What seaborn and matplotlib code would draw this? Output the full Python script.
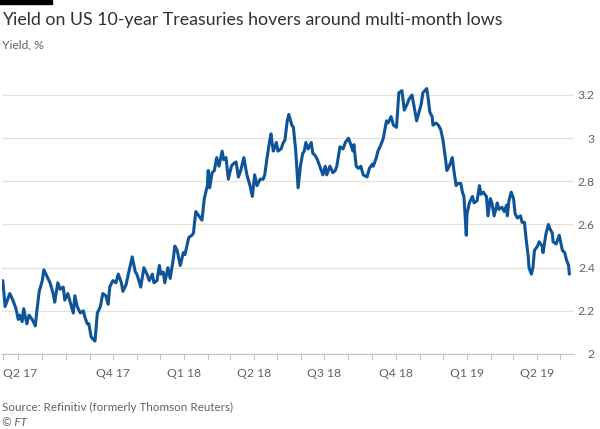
import numpy as np
import pandas as pd
import matplotlib
matplotlib.use("Agg")
import matplotlib.pyplot as plt
import matplotlib.dates as mdates
import seaborn as sns


# ======== data ========
# day offsets counted from the first observation (12 May 2017)
start_date = "2017-05-12"
day_offsets = [
    0, 3, 9, 13, 17, 20, 22, 25, 27, 31, 34, 38, 42, 44, 47, 51, 53, 57, 61, 65,
    67, 71, 74, 78, 80, 84, 87, 91, 93, 96, 100, 104, 106, 109, 111, 114, 116, 119, 122, 126,
    129, 133, 136, 138, 142, 146, 149, 153, 155, 159, 162, 167, 171, 173, 178, 182, 186, 189, 193, 195,
    199, 202, 204, 207, 209, 213, 216, 220, 222, 225, 229, 233, 235, 240, 244, 246, 249, 253, 257, 260,
    264, 265, 267, 270, 273, 276, 279, 283, 285, 288, 291, 295, 297, 301, 304, 307, 311, 315, 319, 322,
    325, 328, 332, 336, 338, 341, 344, 346, 349, 353, 355, 359, 362, 364, 367, 369, 373, 375, 378, 381,
    384, 387, 389, 391, 394, 398, 400, 403, 406, 409, 413, 416, 418, 422, 426, 429, 431, 435, 439, 442,
    446, 449, 452, 453, 456, 459, 462, 465, 470, 473, 477, 478, 482, 484, 488, 491, 495, 497, 501, 504,
    508, 511, 515, 518, 522, 524, 528, 531, 534, 537, 540, 542, 547, 549, 551, 554, 555, 559, 562, 565,
    568, 571, 573, 576, 580, 582, 585, 587, 591, 593, 595, 598, 599, 602, 606, 608, 612, 615, 617, 620,
    624, 626, 629, 631, 634, 638, 640, 644, 647, 650, 651, 653, 656, 659, 661, 664, 668, 670, 673, 675,
    678, 679, 682, 684, 686, 690, 692, 696, 697, 701, 704, 706, 709, 710, 714, 717, 718, 722, 725, 727,
    730, 731,
]
yield_pct = [
    2.34, 2.22, 2.28, 2.25, 2.21, 2.16, 2.18, 2.15, 2.21, 2.14, 2.18, 2.16, 2.13, 2.20, 2.29, 2.34, 2.39, 2.36, 2.33, 2.28,
    2.24, 2.33, 2.30, 2.31, 2.25, 2.28, 2.24, 2.19, 2.27, 2.22, 2.19, 2.20, 2.17, 2.14, 2.14, 2.08, 2.07, 2.06, 2.19, 2.22,
    2.28, 2.27, 2.23, 2.31, 2.34, 2.33, 2.37, 2.33, 2.29, 2.32, 2.37, 2.45, 2.38, 2.37, 2.31, 2.40, 2.37, 2.34, 2.37, 2.33,
    2.34, 2.41, 2.37, 2.38, 2.33, 2.40, 2.35, 2.44, 2.50, 2.48, 2.41, 2.47, 2.46, 2.54, 2.55, 2.56, 2.66, 2.64, 2.62, 2.72,
    2.78, 2.85, 2.77, 2.84, 2.85, 2.91, 2.87, 2.94, 2.90, 2.91, 2.81, 2.87, 2.88, 2.89, 2.82, 2.85, 2.91, 2.83, 2.78, 2.73,
    2.83, 2.78, 2.81, 2.81, 2.83, 2.91, 2.98, 3.02, 2.94, 2.98, 2.94, 2.95, 2.98, 2.99, 3.08, 3.11, 3.06, 3.05, 2.94, 2.77,
    2.87, 2.93, 2.94, 2.98, 2.95, 2.98, 2.93, 2.92, 2.90, 2.87, 2.83, 2.87, 2.83, 2.87, 2.84, 2.85, 2.87, 2.96, 2.95, 2.98,
    3.00, 2.97, 2.94, 2.97, 2.87, 2.86, 2.87, 2.83, 2.82, 2.86, 2.88, 2.87, 2.91, 2.94, 2.97, 3.00, 3.08, 3.07, 3.10, 3.06,
    3.05, 3.21, 3.22, 3.13, 3.16, 3.18, 3.20, 3.14, 3.08, 3.12, 3.16, 3.21, 3.23, 3.18, 3.12, 3.10, 3.06, 3.07, 3.06, 3.04,
    2.99, 2.91, 2.85, 2.87, 2.91, 2.85, 2.78, 2.79, 2.79, 2.75, 2.73, 2.55, 2.65, 2.70, 2.73, 2.70, 2.71, 2.78, 2.74, 2.75,
    2.73, 2.64, 2.72, 2.70, 2.64, 2.70, 2.67, 2.68, 2.66, 2.69, 2.64, 2.71, 2.75, 2.72, 2.65, 2.63, 2.64, 2.61, 2.61, 2.54,
    2.45, 2.40, 2.37, 2.40, 2.48, 2.50, 2.52, 2.50, 2.47, 2.56, 2.60, 2.58, 2.56, 2.52, 2.51, 2.54, 2.55, 2.48, 2.47, 2.44,
    2.41, 2.37,
]
axis_days = 737

quarter_labels = ["Q2 17", "Q4 17", "Q1 18", "Q2 18", "Q3 18", "Q4 18", "Q1 19", "Q2 19"]
quarter_dates = ["2017-05-12", "2017-10-01", "2018-01-01", "2018-04-01",
                 "2018-07-01", "2018-10-01", "2019-01-01", "2019-04-01"]
y_ticks = [2, 2.2, 2.4, 2.6, 2.8, 3, 3.2]
y_tick_labels = ["2", "2.2", "2.4", "2.6", "2.8", "3", "3.2"]

title = "Yield on US 10-year Treasuries hovers around multi-month lows"
subtitle = "Yield, %"
source = "Source: Refinitiv (formerly Thomson Reuters)"

# ======== build frame ========
start = pd.Timestamp(start_date)
df = pd.DataFrame({
    "date": start + pd.to_timedelta(day_offsets, unit="D"),
    "yield": yield_pct,
})

# ======== style ========
sns.set_style("white")
plt.rcParams["font.family"] = ["Lato", "DejaVu Sans"]

text_dark = "#33302e"
text_grey = "#66605c"
grid_col = "#e7e0d9"
axis_col = "#c9c2bb"
line_col = "#0f5499"

fig = plt.figure(figsize=(6, 4.29), dpi=100)
fig.patch.set_facecolor("white")
ax = fig.add_axes([2 / 600, 75 / 429, 572 / 600, (354 - 84.2) / 429])

sns.lineplot(data=df, x="date", y="yield", ax=ax, color=line_col, linewidth=2.2)

ax.set_ylim(2, 3.25)
ax.set_xlim(start - pd.Timedelta(days=1), start + pd.Timedelta(days=axis_days))

# y axis on the right, labels right-aligned
ax.yaxis.tick_right()
ax.set_yticks(y_ticks)
ax.set_yticklabels(y_tick_labels)
ax.tick_params(axis="y", length=0, pad=15, labelsize=8.7, labelcolor=text_grey)
for lab in ax.get_yticklabels():
    lab.set_horizontalalignment("right")
ax.grid(axis="y", color=grid_col, linewidth=0.9)
ax.grid(axis="x", visible=False)

# x axis: month ticks, quarter labels
ax.xaxis.set_minor_locator(mdates.MonthLocator())
ax.set_xticks(mdates.date2num(pd.to_datetime(quarter_dates)))
ax.set_xticklabels(quarter_labels)
ax.tick_params(axis="x", which="both", direction="out", length=4, width=0.7,
               color=axis_col, bottom=True)
ax.tick_params(axis="x", which="major", pad=6, labelsize=8.7, labelcolor=text_grey)
ax.get_xticklabels()[0].set_horizontalalignment("left")

ax.set_xlabel("")
ax.set_ylabel("")
for side in ["top", "left", "right"]:
    ax.spines[side].set_visible(False)
ax.spines["bottom"].set_color(axis_col)
ax.spines["bottom"].set_linewidth(0.8)

# ======== titles and footer ========
fig.patches.append(plt.Rectangle((0, 1 - 4 / 429), 52 / 600, 4 / 429,
                                 transform=fig.transFigure, color="black"))
fig.text(2 / 600, 1 - 20 / 429, title, fontsize=12.8, color=text_dark, va="center")
fig.text(2 / 600, 1 - 45 / 429, subtitle, fontsize=8.7, color=text_grey, va="center")
fig.text(2 / 600, 1 - 407 / 429, source, fontsize=8.4, color=text_grey, va="center")
fig.text(2 / 600, 1 - 423 / 429, "\u00a9 FT", fontsize=8.4, color=text_grey,
         va="center", style="italic")

fig.savefig("out.png", dpi=100, facecolor="white")
